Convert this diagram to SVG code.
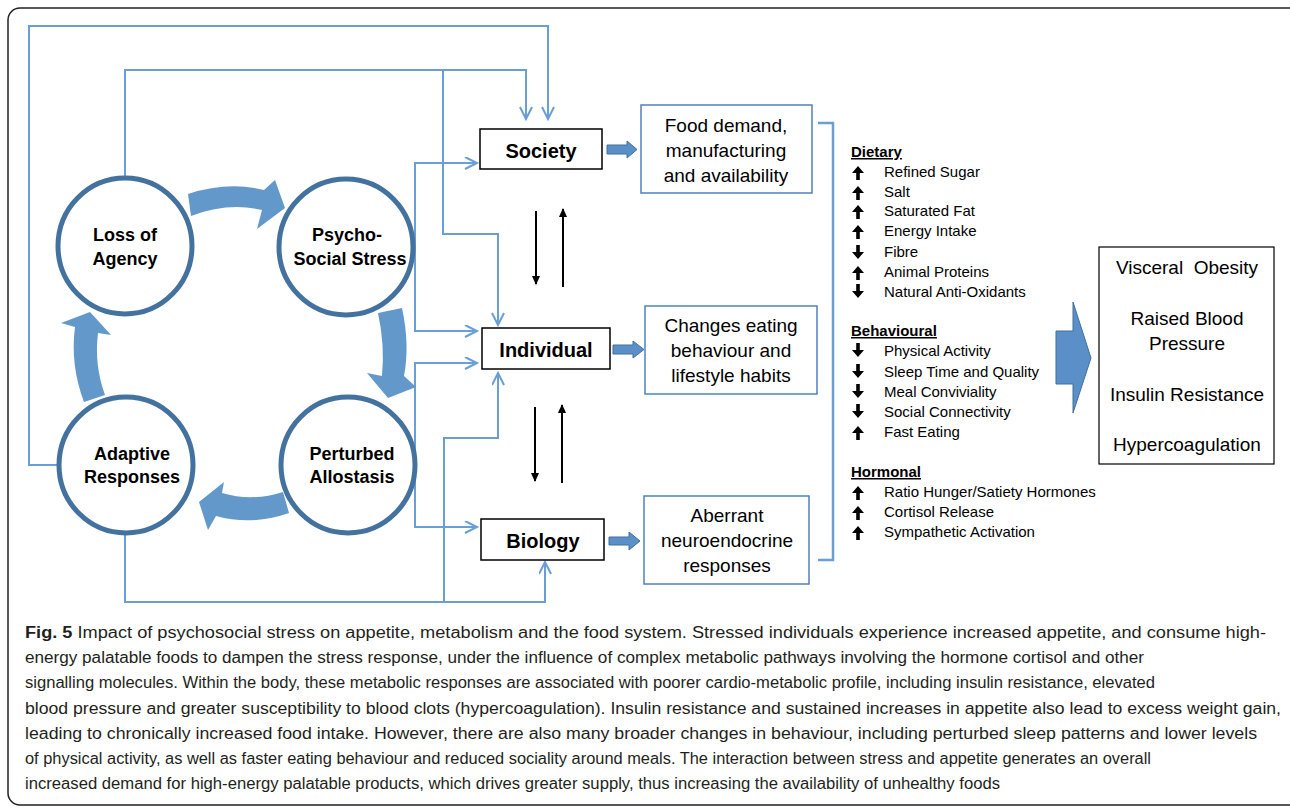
<svg xmlns="http://www.w3.org/2000/svg" width="1290" height="808" viewBox="0 0 1290 808">
<style>
.conn{fill:none;stroke:#6a9fd6;stroke-width:2}
.circ{fill:#fff;stroke:#44729e;stroke-width:5}
.ctext{font-family:"Liberation Sans",Arial,sans-serif;font-weight:bold;font-size:18px;fill:#000;text-anchor:middle}
.box{fill:#fff;stroke:#000;stroke-width:1.5}
.btext{font-family:"Liberation Sans",Arial,sans-serif;font-weight:bold;font-size:20px;fill:#000;text-anchor:middle}
.tbox{fill:#fff;stroke:#4f81bd;stroke-width:1.5}
.ttext{font-family:"Liberation Sans",Arial,sans-serif;font-size:19px;fill:#000;text-anchor:middle}
.fat{fill:#6398cb}
.blk{fill:#5a8fc8;stroke:#41719c;stroke-width:1}
.blkline{stroke:#000;stroke-width:2;fill:none}
.list{font-family:"Liberation Sans",Arial,sans-serif;font-size:15px;fill:#000}
.head{font-family:"Liberation Sans",Arial,sans-serif;font-size:15px;font-weight:bold;fill:#000;text-decoration:underline}
.cap{font-family:"Liberation Sans",Arial,sans-serif;font-size:16px;fill:#231f20}
</style>
<defs>
<marker id="chev" markerUnits="userSpaceOnUse" markerWidth="16" markerHeight="14" refX="13" refY="6.5" orient="auto">
<path d="M1,0.5 L13,6.5 L1,12.5" fill="none" stroke="#6a9fd6" stroke-width="2"/>
</marker>
<marker id="tri" markerUnits="userSpaceOnUse" markerWidth="10" markerHeight="10" refX="8" refY="4" orient="auto">
<path d="M0,0 L9,4 L0,8 Z" fill="#000"/>
</marker>
<path id="up" d="M0,-11 L6,-4 L1.8,-4 L1.8,3 L-1.8,3 L-1.8,-4 L-6,-4 Z" fill="#000"/>
<path id="dn" d="M0,3 L6,-4 L1.8,-4 L1.8,-11 L-1.8,-11 L-1.8,-4 L-6,-4 Z" fill="#000"/>
</defs>
<rect x="0" y="0" width="1290" height="808" fill="#fff"/>
<rect x="8" y="8" width="1310" height="797" rx="12" fill="none" stroke="#222" stroke-width="1.5"/>

<g id="connectors">
<path class="conn" d="M57,465 L29,465 L29,26 L548,26 L548,119" marker-end="url(#chev)"/>
<path class="conn" d="M125,177 L125,70 L526,70 L526,119" marker-end="url(#chev)"/>
<path class="conn" d="M443,70 L443,234 L498,234 L498,325" marker-end="url(#chev)"/>
<path class="conn" d="M415,330 L415,163 L477,163" marker-end="url(#chev)"/>
<path class="conn" d="M415,163 L415,331 L477,331" marker-end="url(#chev)"/>
<path class="conn" d="M415,527 L415,363 L477,363" marker-end="url(#chev)"/>
<path class="conn" d="M415,363 L415,527 L477,527" marker-end="url(#chev)"/>
<path class="conn" d="M125,533 L125,602 L545,602 L545,562" marker-end="url(#chev)"/>
<path class="conn" d="M444,602 L444,438 L498,438 L498,373" marker-end="url(#chev)"/>
<path class="conn" style="stroke-width:2.5" d="M818,123 L833,123 L833,560 L818,560"/>
<line class="blkline" x1="536" y1="211" x2="536" y2="284" marker-end="url(#tri)"/>
<line class="blkline" x1="563" y1="287" x2="563" y2="209" marker-end="url(#tri)"/>
<line class="blkline" x1="535" y1="407" x2="535" y2="481" marker-end="url(#tri)"/>
<line class="blkline" x1="562" y1="483" x2="562" y2="405" marker-end="url(#tri)"/>
<path class="blk" d="M607,145 L627,145 L627,141 L637,149.5 L627,158 L627,154 L607,154 Z"/>
<path class="blk" d="M613,345 L633,345 L633,341 L644,349.5 L633,358 L633,354 L613,354 Z"/>
<path class="blk" d="M609,537 L629,537 L629,532 L640,541 L629,550 L629,545 L609,545 Z"/>
<path class="blk" d="M1056,331 L1073,331 L1073,302 L1091,358 L1073,413 L1073,384 L1056,384 Z"/>
</g>

<g id="cycle-arrows">
<path class="fat" d="M188,194 Q228,181 264,190 L275,180 L285,208 L257,229 L262,210 Q228,202 191,216 Z"/>
<path class="fat" d="M402,308 Q410,345 404,376 L416,387 L388,398 L367,373 L382,376 Q385,345 378,313 Z"/>
<path class="fat" d="M283,492 Q252,502 222,493 L224,482 L199,502 L208,530 L216,516 Q252,526 289,513 Z"/>
<path class="fat" d="M105,395 Q94,365 98,333 L111,335 L90,312 L61,323 L75,327 Q70,365 84,402 Z"/>
</g>

<g id="loss-of-agency">
<ellipse class="circ" cx="125" cy="246" rx="67" ry="68"/>
<text class="ctext" x="125" y="241">Loss of</text>
<text class="ctext" x="125" y="265">Agency</text>
</g>
<g id="psycho-social-stress">
<ellipse class="circ" cx="346" cy="247" rx="67" ry="68"/>
<text class="ctext" x="347" y="241">Psycho-</text>
<text class="ctext" x="350" y="265">Social Stress</text>
</g>
<g id="perturbed-allostasis">
<ellipse class="circ" cx="348" cy="465" rx="67" ry="68"/>
<text class="ctext" x="352" y="460">Perturbed</text>
<text class="ctext" x="352" y="483">Allostasis</text>
</g>
<g id="adaptive-responses">
<ellipse class="circ" cx="126" cy="465" rx="67" ry="68"/>
<text class="ctext" x="132" y="460">Adaptive</text>
<text class="ctext" x="132" y="483">Responses</text>
</g>

<g id="society">
<rect class="box" x="480" y="129" width="122" height="40"/>
<text class="btext" x="541" y="158">Society</text>
</g>
<g id="individual">
<rect class="box" x="482" y="328" width="128" height="41"/>
<text class="btext" x="546" y="357">Individual</text>
</g>
<g id="biology">
<rect class="box" x="481" y="519" width="123" height="41"/>
<text class="btext" x="543" y="548">Biology</text>
</g>

<g id="food-demand">
<rect class="tbox" x="641" y="105" width="171" height="88"/>
<text class="ttext" x="726" y="132">Food demand,</text>
<text class="ttext" x="726" y="157">manufacturing</text>
<text class="ttext" x="726" y="182">and availability</text>
</g>
<g id="changes-eating">
<rect class="tbox" x="645" y="306" width="172" height="88"/>
<text class="ttext" x="731" y="332">Changes eating</text>
<text class="ttext" x="731" y="357">behaviour and</text>
<text class="ttext" x="731" y="382">lifestyle habits</text>
</g>
<g id="aberrant">
<rect class="tbox" x="644" y="496" width="165" height="88"/>
<text class="ttext" x="727" y="522">Aberrant</text>
<text class="ttext" x="727" y="547">neuroendocrine</text>
<text class="ttext" x="727" y="572">responses</text>
</g>

<g id="effects-list">
<text class="head" x="851" y="157">Dietary</text>
<use href="#up" x="858" y="177"/><text class="list" x="884" y="177">Refined Sugar</text>
<use href="#up" x="858" y="197"/><text class="list" x="884" y="197">Salt</text>
<use href="#up" x="858" y="216"/><text class="list" x="884" y="216">Saturated Fat</text>
<use href="#up" x="858" y="236"/><text class="list" x="884" y="236">Energy Intake</text>
<use href="#dn" x="858" y="256"/><text class="list" x="884" y="257">Fibre</text>
<use href="#up" x="858" y="277"/><text class="list" x="884" y="277">Animal Proteins</text>
<use href="#dn" x="858" y="295"/><text class="list" x="884" y="297">Natural Anti-Oxidants</text>
<text class="head" x="851" y="336">Behavioural</text>
<use href="#dn" x="858" y="354"/><text class="list" x="884" y="356">Physical Activity</text>
<use href="#dn" x="858" y="375"/><text class="list" x="884" y="377">Sleep Time and Quality</text>
<use href="#dn" x="858" y="395"/><text class="list" x="884" y="397">Meal Conviviality</text>
<use href="#dn" x="858" y="415"/><text class="list" x="884" y="417">Social Connectivity</text>
<use href="#up" x="858" y="437"/><text class="list" x="884" y="437">Fast Eating</text>
<text class="head" x="851" y="477">Hormonal</text>
<use href="#up" x="858" y="497"/><text class="list" x="884" y="497">Ratio Hunger/Satiety Hormones</text>
<use href="#up" x="858" y="517"/><text class="list" x="884" y="517">Cortisol Release</text>
<use href="#up" x="858" y="537"/><text class="list" x="884" y="537">Sympathetic Activation</text>
</g>

<g id="outcomes">
<rect x="1099" y="247" width="175" height="217" fill="#fff" stroke="#000" stroke-width="1.2"/>
<text class="ttext" x="1187" y="274" xml:space="preserve">Visceral  Obesity</text>
<text class="ttext" x="1187" y="325">Raised Blood</text>
<text class="ttext" x="1187" y="350">Pressure</text>
<text class="ttext" x="1187" y="401">Insulin Resistance</text>
<text class="ttext" x="1187" y="451">Hypercoagulation</text>
</g>

<g id="caption">
<text class="cap" x="25" y="638" textLength="1241" lengthAdjust="spacingAndGlyphs"><tspan font-weight="bold">Fig. 5</tspan> Impact of psychosocial stress on appetite, metabolism and the food system. Stressed individuals experience increased appetite, and consume high-</text>
<text class="cap" x="25" y="663" textLength="1119" lengthAdjust="spacingAndGlyphs">energy palatable foods to dampen the stress response, under the influence of complex metabolic pathways involving the hormone cortisol and other</text>
<text class="cap" x="25" y="688" textLength="1130" lengthAdjust="spacingAndGlyphs">signalling molecules. Within the body, these metabolic responses are associated with poorer cardio-metabolic profile, including insulin resistance, elevated</text>
<text class="cap" x="25" y="714" textLength="1256" lengthAdjust="spacingAndGlyphs">blood pressure and greater susceptibility to blood clots (hypercoagulation). Insulin resistance and sustained increases in appetite also lead to excess weight gain,</text>
<text class="cap" x="25" y="739" textLength="1232" lengthAdjust="spacingAndGlyphs">leading to chronically increased food intake. However, there are also many broader changes in behaviour, including perturbed sleep patterns and lower levels</text>
<text class="cap" x="25" y="764" textLength="1126" lengthAdjust="spacingAndGlyphs">of physical activity, as well as faster eating behaviour and reduced sociality around meals. The interaction between stress and appetite generates an overall</text>
<text class="cap" x="25" y="789" textLength="975" lengthAdjust="spacingAndGlyphs">increased demand for high-energy palatable products, which drives greater supply, thus increasing the availability of unhealthy foods</text>
</g>
</svg>
